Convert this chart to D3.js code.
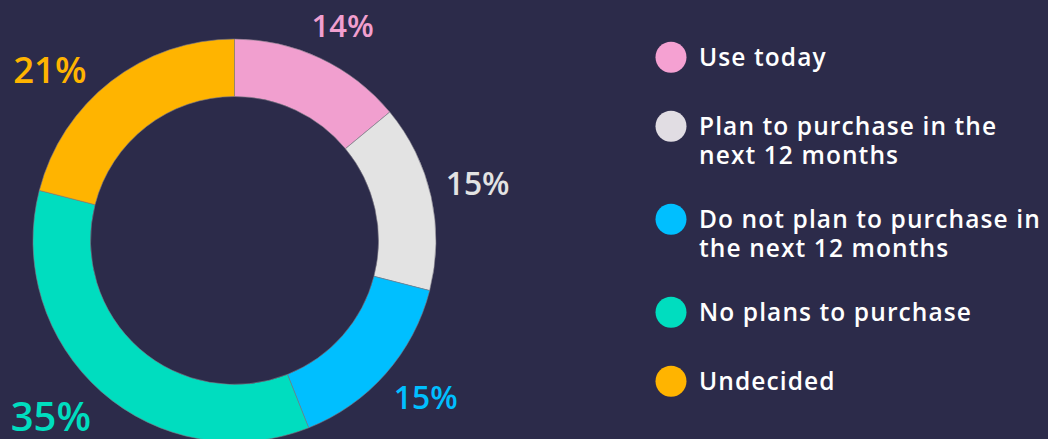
<!DOCTYPE html>
<html>
<head>
<meta charset="utf-8">
<script src="https://cdn.jsdelivr.net/npm/d3@7"></script>
<style>
  html, body { margin: 0; padding: 0; background: #2c2b4a; }
  svg { display: block; }
</style>
</head>
<body>
<svg id="chart" width="1048" height="439"></svg>
<script>
// Survey answers: share of respondents per answer (%)
const categories = [
  "Use today",
  "Plan to purchase in the next 12 months",
  "Do not plan to purchase in the next 12 months",
  "No plans to purchase",
  "Undecided"
];
const values = [14, 15, 15, 35, 21];
const colors = ["#f19fcf", "#e3e3e3", "#00bfff", "#00ddbf", "#ffb400"];
const legendColors = ["#f5a1d2", "#e1dde3", "#00bfff", "#00ddbf", "#ffb400"];
// Legend text, broken over lines as shown
const legendLines = [
  ["Use today"],
  ["Plan to purchase in the", "next 12 months"],
  ["Do not plan to purchase in", "the next 12 months"],
  ["No plans to purchase"],
  ["Undecided"]
];

const W = 1048, H = 439;
const svg = d3.select("#chart");
svg.append("rect").attr("width", W).attr("height", H).attr("fill", "#2c2b4a");

const cx = 234.5, cy = 240.5;
const outerR = 201.5, innerR = 144;

const data = categories.map((c, i) => ({ name: c, value: values[i], color: colors[i] }));

const pie = d3.pie().value(d => d.value).sort(null);
const arc = d3.arc().innerRadius(innerR).outerRadius(outerR);
const arcs = pie(data);

const g = svg.append("g").attr("transform", `translate(${cx},${cy})`);

g.selectAll("path.slice")
  .data(arcs)
  .enter().append("path")
  .attr("class", "slice")
  .attr("d", arc)
  .attr("fill", d => d.data.color)
  .attr("stroke", "#7d7a86")
  .attr("stroke-width", 0.6);

// Percentage labels: size grows with the share; each label box sits just
// outside the ring, slightly rotated off the mid-angle to keep clear of the frame.
const fontFamily = "'Open Sans', 'Noto Sans', sans-serif";
const labelSize = d3.scaleLinear().domain([14, 21, 35]).range([31, 36.5, 40]);
const capRatio = 0.714;
const labelGap = 216;
const labelTurnDeg = [1.6, -0.5, -1.9, 4.7, -9.4];

g.selectAll("text.pct")
  .data(arcs)
  .enter().append("text")
  .attr("class", "pct")
  .each(function(d, i) {
    const fs = labelSize(d.data.value);
    const t = d3.select(this)
      .attr("text-anchor", "middle")
      .attr("font-size", fs)
      .attr("font-weight", 600)
      .attr("font-family", fontFamily)
      .attr("fill", d.data.color)
      .text(d.data.value + "%");
    const w = this.getComputedTextLength();
    const h = fs * capRatio;
    const a = (d.startAngle + d.endAngle) / 2 + labelTurnDeg[i] * Math.PI / 180;
    const s = Math.sin(a), c = Math.cos(a);
    const r = labelGap + Math.abs(s) * w / 2 + Math.abs(c) * h / 2;
    t.attr("x", r * s).attr("y", -r * c + h / 2);
  });

// Legend
const legendX = 671, textX = 699;
const lineH = 29;
const legend = svg.append("g");
let yPos = 57.3;
legendLines.forEach((lines, i) => {
  const item = legend.append("g").attr("transform", `translate(0,${yPos})`);
  item.append("circle")
    .attr("cx", legendX).attr("cy", 0).attr("r", 15.5)
    .attr("fill", legendColors[i]);
  const t = item.append("text")
    .attr("font-family", fontFamily)
    .attr("font-size", 24.5)
    .attr("font-weight", 600)
    .attr("letter-spacing", 1.1)
    .attr("fill", "#ffffff");
  lines.forEach((ln, j) => {
    t.append("tspan")
      .attr("x", textX)
      .attr("y", 8.5 + j * lineH)
      .text(ln);
  });
  yPos += lines.length * 24 + 45;
});
</script>
</body>
</html>
